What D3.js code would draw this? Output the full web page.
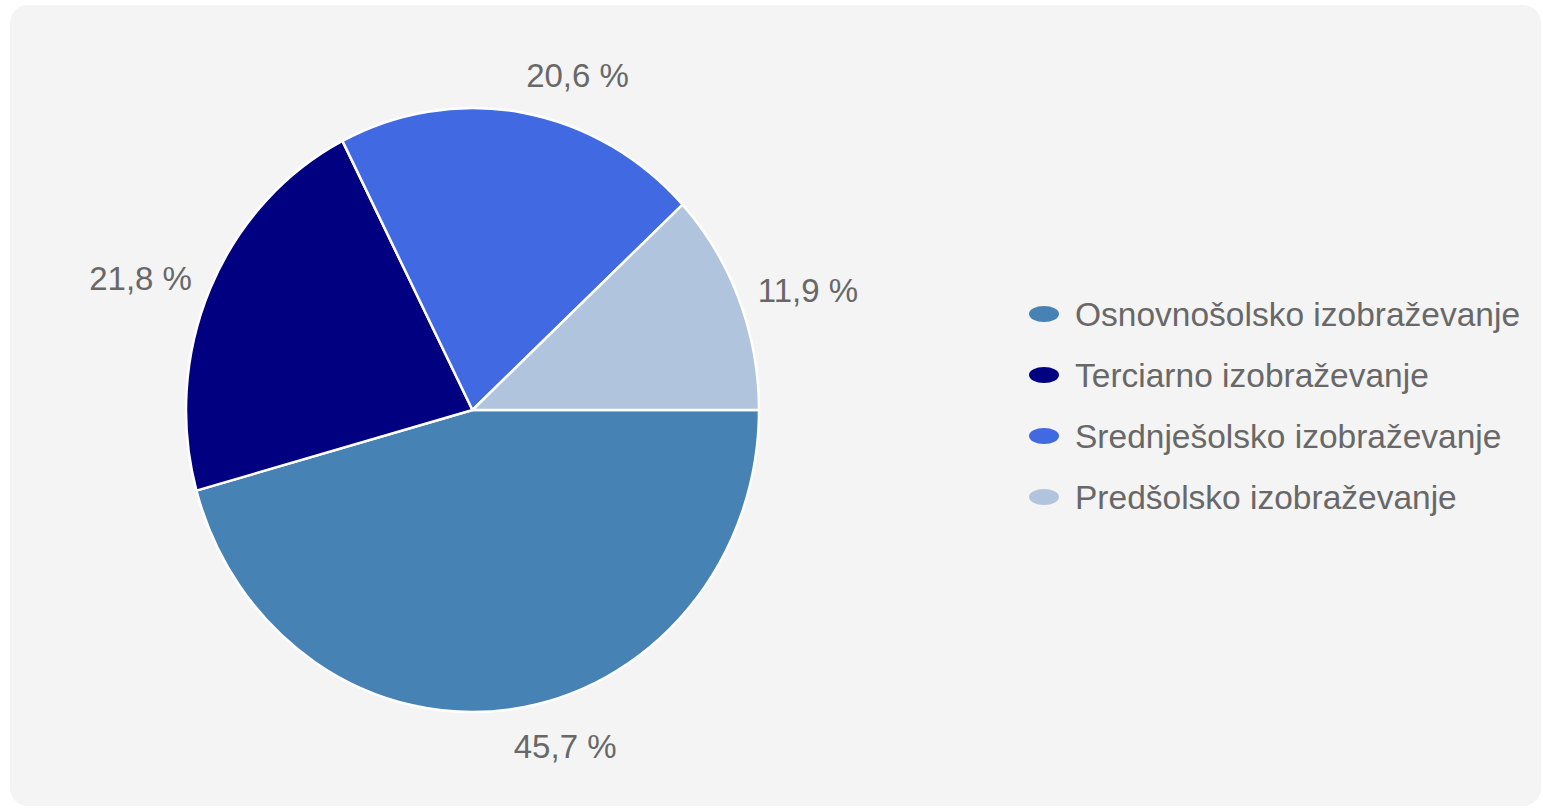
<!DOCTYPE html>
<html>
<head>
<meta charset="utf-8">
<script src="https://cdn.jsdelivr.net/npm/d3@7/dist/d3.min.js"></script>
<style>
  html, body { margin: 0; padding: 0; background: #ffffff; }
  svg { display: block; }
  text { font-family: "Liberation Sans", Arial, sans-serif; }
</style>
</head>
<body>
<svg id="chart" width="1543" height="808"></svg>
<script>
const categories = ["Osnovnošolsko izobraževanje", "Terciarno izobraževanje", "Srednješolsko izobraževanje", "Predšolsko izobraževanje"];
const values = [45.7, 21.8, 20.6, 11.9];
const colors = ["#4682B4", "#000080", "#4169E1", "#B0C4DE"];
const valueLabels = ["45,7 %", "21,8 %", "20,6 %", "11,9 %"];

const svg = d3.select("#chart");

// panel background
svg.append("rect")
  .attr("x", 10).attr("y", 5)
  .attr("width", 1531).attr("height", 801)
  .attr("rx", 18).attr("ry", 18)
  .attr("fill", "#f4f4f4");

const cx = 472.5, cy = 410, rx = 286.5, ry = 302;

const data = categories.map((c, i) => ({ name: c, value: values[i], color: colors[i], label: valueLabels[i] }));

const pie = d3.pie()
  .value(d => d.value)
  .sort(null)
  .startAngle(Math.PI / 2)
  .endAngle(Math.PI / 2 + 2 * Math.PI);

const arcs = pie(data);
const arc = d3.arc().innerRadius(0).outerRadius(ry);

const color = d3.scaleOrdinal().domain(categories).range(colors);

const g = svg.append("g")
  .attr("transform", `translate(${cx},${cy}) scale(${rx / ry},1)`);

g.selectAll("path.slice")
  .data(arcs)
  .enter().append("path")
  .attr("class", "slice")
  .attr("d", arc)
  .attr("fill", d => color(d.data.name))
  .attr("stroke", "#ffffff")
  .attr("stroke-width", 2.5)
  .attr("stroke-linejoin", "round")
  .style("vector-effect", "non-scaling-stroke");

// value labels
const fontSize = 33;
svg.selectAll("text.val")
  .data(arcs)
  .enter().append("text")
  .attr("class", "val")
  .each(function(d) {
    const a = (d.startAngle + d.endAngle) / 2; // d3 angle: 0 = top, clockwise
    const sx = Math.sin(a), sy = -Math.cos(a);
    const x = cx + sx * (rx + 20);
    const y = cy + sy * (ry + 16) + sy * Math.abs(sy) * 22;
    d3.select(this)
      .attr("x", x)
      .attr("y", y)
      .attr("dy", "0.35em")
      .attr("text-anchor", sx >= 0 ? "start" : "end");
  })
  .attr("fill", "#686868")
  .attr("font-size", fontSize)
  .text(d => d.data.label);

// legend
const legendY = d3.scalePoint().domain(categories).range([314, 497]);
const legend = svg.append("g");
const items = legend.selectAll("g.item")
  .data(data)
  .enter().append("g")
  .attr("class", "item")
  .attr("transform", d => `translate(0,${legendY(d.name)})`);

items.append("ellipse")
  .attr("cx", 1044).attr("cy", 0)
  .attr("rx", 15).attr("ry", 8)
  .attr("fill", d => color(d.name));

items.append("text")
  .attr("x", 1075).attr("y", 0)
  .attr("dy", "0.35em")
  .attr("fill", "#686868")
  .attr("font-size", 33.5)
  .text(d => d.name);
</script>
</body>
</html>
